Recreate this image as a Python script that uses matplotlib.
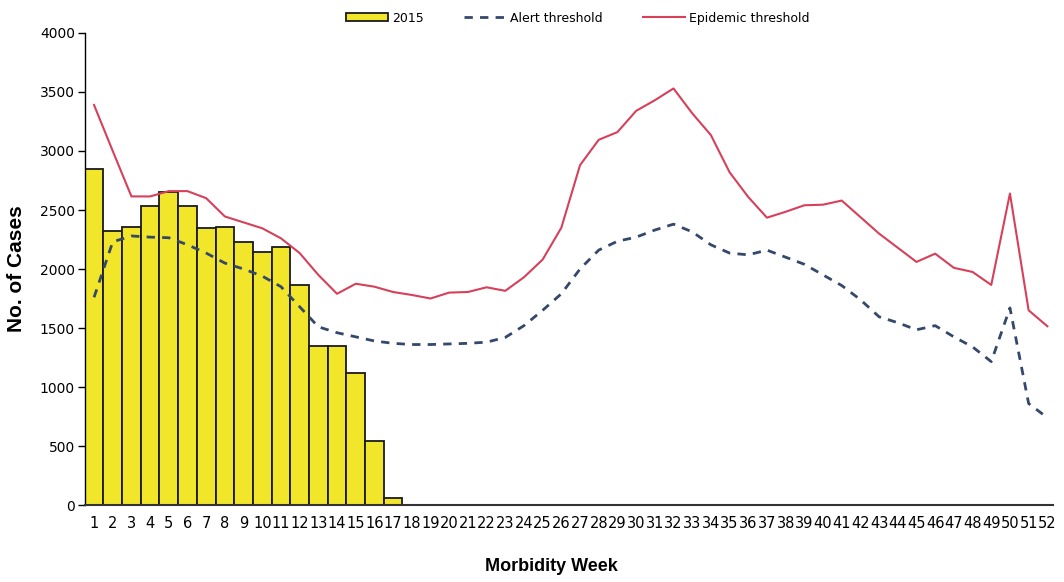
import matplotlib
matplotlib.use("Agg")
import matplotlib.pyplot as plt

weeks = list(range(1, 53))
week_labels = [str(w) for w in weeks]

# 2015 cases (only weeks 1-17 reported)
cases_2015 = [2850, 2320, 2360, 2530, 2650, 2530, 2345, 2360, 2230, 2140,
              2185, 1865, 1350, 1350, 1115, 545, 60]

alert = [1760, 2230, 2280, 2270, 2265, 2205, 2135, 2050, 2000, 1940,
         1850, 1680, 1510, 1460, 1425, 1390, 1370, 1360, 1360, 1365,
         1370, 1380, 1420, 1520, 1650, 1790, 2000, 2160, 2235, 2270,
         2330, 2380, 2315, 2205, 2135, 2120, 2160, 2100, 2040, 1950,
         1860, 1740, 1595, 1545, 1485, 1520, 1425, 1340, 1215, 1670,
         860, 740]

epidemic = [3390, 3000, 2615, 2615, 2660, 2660, 2600, 2445, 2395, 2345,
            2260, 2135, 1950, 1790, 1875, 1850, 1805, 1780, 1750, 1800,
            1805, 1845, 1815, 1930, 2080, 2350, 2880, 3095, 3160, 3340,
            3430, 3530, 3320, 3135, 2820, 2610, 2435, 2485, 2540, 2545,
            2580, 2440, 2300, 2180, 2060, 2130, 2010, 1975, 1865, 2640,
            1650, 1515]

fig = plt.figure(figsize=(10.64, 5.82), dpi=100)
ax = fig.add_axes([0.0796, 0.1323, 0.910, 0.811])

bars = ax.bar(weeks[:len(cases_2015)], cases_2015, width=1.0, color="#f2e62a",
              edgecolor="#1a1a1a", linewidth=1.3, label="2015", zorder=2)
l1, = ax.plot(weeks, alert, color="#34486b", linewidth=2,
              linestyle=(0, (3, 2.6)), label="Alert threshold", zorder=3)
l2, = ax.plot(weeks, epidemic, color="#d6405a", linewidth=1.5,
              label="Epidemic threshold", zorder=3)

ax.set_xlim(0.5, 52.3)
ax.set_ylim(0, 4000)
ax.set_yticks(range(0, 4001, 500))
ax.set_xticks(weeks)
ax.set_xticklabels(week_labels)

for s in ["top", "right"]:
    ax.spines[s].set_visible(False)
ax.spines["left"].set_linewidth(1.0)
ax.spines["bottom"].set_linewidth(1.5)
ax.spines["bottom"].set_color("#333333")

ax.tick_params(axis="y", direction="out", length=5, width=1, pad=2,
               labelsize=10)
ax.tick_params(axis="x", length=0, pad=8, labelsize=10.5)
for t in ax.get_xticklabels() + ax.get_yticklabels():
    t.set_family("DejaVu Sans")

ax.set_xlabel("Morbidity Week", fontsize=13, fontweight="bold",
              family="Liberation Sans")
ax.xaxis.set_label_coords(0.482, -0.112)
ax.set_ylabel("No. of Cases", fontsize=15, fontweight="bold",
              family="Liberation Sans", labelpad=10)

leg = fig.legend([bars, l1, l2], ["2015", "Alert threshold", "Epidemic threshold"],
                 loc="center", bbox_to_anchor=(0.543, 0.969), ncol=3,
                 frameon=False, handlelength=3.4,
                 handleheight=0.6, handletextpad=0.3, columnspacing=3.2,
                 prop={"family": "DejaVu Sans", "size": 9})

fig.savefig("out.png", dpi=100)
